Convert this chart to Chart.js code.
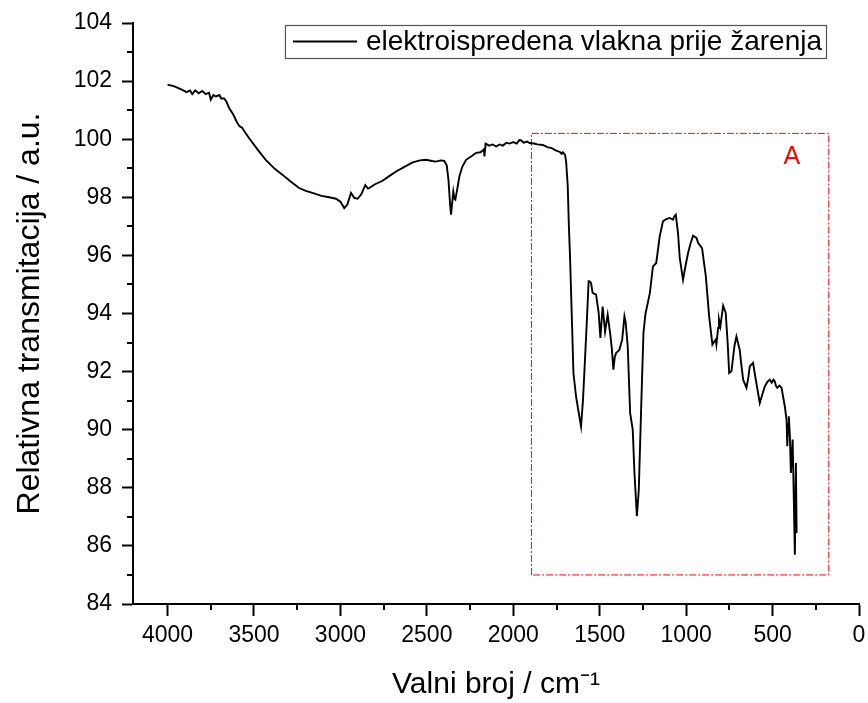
<!DOCTYPE html>
<html><head><meta charset="utf-8">
<script src="https://cdn.jsdelivr.net/npm/chart.js@4.4.1/dist/chart.umd.min.js"></script>
<style>html,body{margin:0;padding:0;background:#fff;}#wrap{width:868px;height:703px;}</style>
</head><body><div id="wrap"><canvas id="c" width="868" height="703"></canvas></div>
<script>
// ---- data ----
const wavenumber = [4000,3960,3915,3890,3870,3857,3840,3820,3799,3780,3760,3750,3735,3721,3700,3690,3673,3660,3644,3620,3600,3585,3570,3550,3529,3480,3432,3380,3336,3290,3239,3200,3162,3110,3065,3026,3000,2978,2960,2939,2920,2901,2880,2856,2840,2833,2800,2756,2720,2678,2630,2582,2540,2505,2470,2447,2420,2399,2385,2375,2365,2360,2352,2347,2340,2335,2322,2312,2295,2273,2240,2215,2190,2177,2170,2167,2160,2140,2120,2099,2080,2060,2040,2022,2000,1980,1965,1954,1940,1920,1906,1880,1860,1829,1800,1780,1752,1730,1720,1713,1700,1694,1685,1679,1672,1666,1659,1652,1637,1622,1608,1597,1589,1575,1564,1556,1550,1541,1521,1506,1496,1483,1469,1454,1440,1430,1421,1413,1405,1386,1370,1357,1350,1338,1324,1309,1299,1285,1274,1260,1247,1235,1222,1210,1192,1173,1153,1134,1115,1095,1076,1068,1060,1047,1037,1018,1005,989,975,960,940,931,908,886,867,848,835,829,825,815,810,802,786,771,760,751,738,720,709,690,680,670,651,640,632,613,597,585,574,560,545,530,516,505,495,487,480,473,460,448,438,429,419,415,410,406,400,394,388,384,377,371,365,361];
const transmittance = [101.88,101.82,101.70,101.62,101.68,101.55,101.68,101.58,101.66,101.55,101.60,101.36,101.52,101.47,101.52,101.40,101.40,101.30,101.07,100.85,100.60,100.45,100.40,100.22,100.04,99.65,99.29,98.98,98.78,98.55,98.32,98.22,98.15,98.05,98.00,97.95,97.85,97.63,97.75,98.15,97.98,97.95,98.10,98.42,98.30,98.32,98.45,98.57,98.72,98.89,99.05,99.20,99.27,99.29,99.25,99.23,99.27,99.25,99.10,98.60,97.70,97.40,97.90,98.20,97.95,97.92,98.35,98.72,99.05,99.29,99.42,99.53,99.55,99.61,99.65,99.41,99.85,99.78,99.82,99.75,99.82,99.78,99.88,99.85,99.90,99.85,99.97,99.96,99.88,99.92,99.87,99.85,99.82,99.80,99.72,99.70,99.61,99.56,99.50,99.55,99.45,99.20,98.40,97.12,96.00,94.82,93.40,91.95,91.15,90.60,90.11,91.00,91.95,93.67,95.11,95.10,95.05,94.71,94.65,94.02,93.16,94.24,93.38,93.96,93.33,92.80,92.07,92.50,92.64,92.75,93.10,93.90,93.70,92.87,90.57,90.00,88.51,87.02,87.93,90.80,93.33,94.00,94.36,94.70,95.62,95.74,96.65,97.17,97.25,97.29,97.23,97.35,97.40,96.77,95.91,95.16,95.60,96.08,96.40,96.68,96.60,96.43,96.25,95.28,93.90,92.93,93.05,93.10,92.93,93.50,93.79,93.56,94.27,94.02,93.00,91.95,92.01,92.90,93.21,92.75,92.20,91.72,91.44,91.80,92.18,92.30,91.72,91.30,90.92,91.20,91.49,91.65,91.72,91.62,91.72,91.66,91.50,91.44,91.52,91.44,91.10,90.80,90.34,89.43,90.20,90.46,89.80,88.51,89.20,89.66,87.59,85.70,88.85,86.44];
const seriesLabel = 'elektroispredena vlakna prije žarenja';
const xTicks = [4000,3500,3000,2500,2000,1500,1000,500,0];
const xMinorTicks = [3750,3250,2750,2250,1750,1250,750,250];
const yTicks = [84,86,88,90,92,94,96,98,100,102,104];
const yMinorTicks = [85,87,89,91,93,95,97,99,101,103];
const boxX = [1895,1895,175,175,1895];
const boxY = [85.0,100.2,100.2,85.0,85.0];
const boxLabel = 'A';
const boxLabelX = 388;
const boxLabelY = 99.4;
const xTitle = 'Valni broj / cm⁻¹';
const yTitle = 'Relativna transmitacija / a.u.';

const FONT = "'Liberation Sans', Arial, sans-serif";

const extras = {
  id: 'extras',
  afterDraw(chart) {
    const ctx = chart.ctx, a = chart.chartArea;
    const xs = chart.scales.x, ys = chart.scales.y;
    ctx.save();
    // minor ticks
    ctx.strokeStyle = '#000'; ctx.lineWidth = 2; ctx.lineCap = 'butt';
    ctx.beginPath();
    xMinorTicks.forEach(v => { const p = Math.round(xs.getPixelForValue(v)); ctx.moveTo(p, a.bottom); ctx.lineTo(p, a.bottom + 6); });
    yMinorTicks.forEach(v => { const p = Math.round(ys.getPixelForValue(v)); ctx.moveTo(a.left, p); ctx.lineTo(a.left - 6, p); });
    ctx.stroke();
    // box label
    ctx.fillStyle = '#ff0000';
    ctx.font = '25px ' + FONT;
    ctx.textAlign = 'center'; ctx.textBaseline = 'middle';
    ctx.fillText(boxLabel, xs.getPixelForValue(boxLabelX), ys.getPixelForValue(boxLabelY));
    // legend
    ctx.font = '28px ' + FONT;
    const tw = ctx.measureText(seriesLabel).width;
    const right = a.right - 33, top = a.top + 2, h = 33;
    const left = right - (tw + 4 + 9 + 64 + 8);
    ctx.fillStyle = '#fff';
    ctx.fillRect(left, top, right - left, h);
    ctx.strokeStyle = '#555'; ctx.lineWidth = 1.2;
    ctx.strokeRect(left + 0.5, top + 0.5, right - left, h);
    ctx.strokeStyle = '#000'; ctx.lineWidth = 1.8;
    ctx.beginPath(); ctx.moveTo(left + 8, top + h / 2); ctx.lineTo(left + 72, top + h / 2); ctx.stroke();
    ctx.fillStyle = '#000'; ctx.textAlign = 'left'; ctx.textBaseline = 'middle';
    ctx.fillText(seriesLabel, left + 81, top + h / 2 + 1);
    ctx.restore();
  }
};

new Chart(document.getElementById('c'), {
  type: 'line',
  data: {
    datasets: [
      { label: seriesLabel, data: wavenumber.map((w, i) => ({ x: w, y: transmittance[i] })),
        borderColor: '#000', borderWidth: 1.9, pointRadius: 0, tension: 0, fill: false },
      { label: 'A', data: boxX.map((w, i) => ({ x: w, y: boxY[i] })),
        borderColor: '#ff0000', borderWidth: 1, borderDash: [7, 2, 2, 2], pointRadius: 0, tension: 0, fill: false }
    ]
  },
  options: {
    responsive: false, animation: false, devicePixelRatio: 1,
    layout: { padding: { left: 0, right: 9, top: 23, bottom: 0 } },
    plugins: { legend: { display: false }, tooltip: { enabled: false } },
    scales: {
      x: {
        type: 'linear', reverse: true, min: 0, max: 4200,
        afterBuildTicks: s => { s.ticks = xTicks.map(v => ({ value: v })); },
        afterFit: s => { s.height = 99; s.paddingLeft = 0; s.paddingRight = 0; },
        ticks: { font: { size: 23, family: FONT }, color: '#000', padding: 6, maxRotation: 0, autoSkip: false,
                 callback: v => String(v) },
        grid: { drawOnChartArea: false, drawTicks: true, tickLength: 12, tickWidth: 2, tickColor: '#000' },
        border: { display: true, color: '#000', width: 2 },
        title: { display: true, text: xTitle, color: '#000', font: { size: 30, family: FONT }, padding: { top: 0, bottom: 0 } }
      },
      y: {
        type: 'linear', min: 84, max: 104,
        afterBuildTicks: s => { s.ticks = yTicks.map(v => ({ value: v })); },
        afterFit: s => { s.width = 133; s.paddingTop = 0; s.paddingBottom = 0; },
        ticks: { font: { size: 23, family: FONT }, color: '#000', padding: 10, callback: v => String(v) },
        grid: { drawOnChartArea: false, drawTicks: true, tickLength: 11, tickWidth: 2, tickColor: '#000' },
        border: { display: true, color: '#000', width: 2 },
        title: { display: true, text: yTitle, color: '#000', font: { size: 32, family: FONT }, padding: { top: 11, bottom: 0 } }
      }
    }
  },
  plugins: [extras]
});
</script></body></html>
